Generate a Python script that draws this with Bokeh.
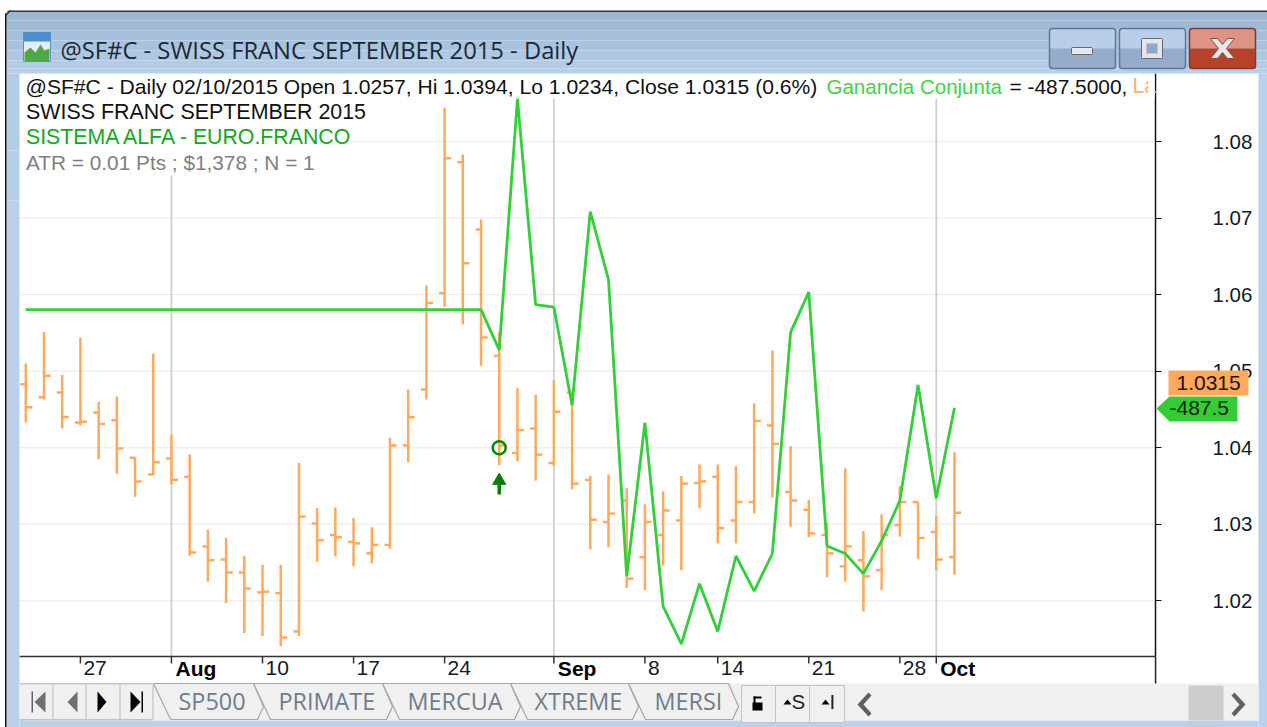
from bokeh.plotting import figure
from bokeh.embed import file_html
from bokeh.resources import INLINE
from bokeh.models import (BoxAnnotation, PolyAnnotation, Label, Range1d, LinearAxis,
                          FixedTicker, ColumnDataSource)

# ---------- data ----------
highs = [1.0510,1.0551,1.0495,1.0544,1.0460,1.0467,1.0388,1.0523,1.0417,1.0391,
         1.0293,1.0282,1.0259,1.0247,1.0247,1.0380,1.0321,1.0322,1.0308,1.0296,
         1.0413,1.0476,1.0612,1.0844,1.0783,1.0698,1.0551,1.0478,1.0469,1.0488,
         1.0471,1.0363,1.0365,1.0347,1.0326,1.0343,1.0363,1.0378,1.0378,1.0376,
         1.0458,1.0527,1.0402,1.0332,1.0302,1.0373,1.0291,1.0313,1.0350,1.0329,
         1.0311,1.0394]
lows = [1.0433,1.0463,1.0425,1.0429,1.0385,1.0366,1.0336,1.0364,1.0352,1.0259,
        1.0225,1.0197,1.0158,1.0154,1.0141,1.0154,1.0251,1.0258,1.0245,1.0249,
        1.0268,1.0381,1.0463,1.0584,1.0561,1.0507,1.0377,1.0382,1.0357,1.0376,
        1.0346,1.0267,1.0270,1.0217,1.0214,1.0246,1.0240,1.0321,1.0275,1.0275,
        1.0314,1.0335,1.0297,1.0283,1.0231,1.0225,1.0186,1.0214,1.0284,1.0255,
        1.0240,1.0234]
opens = [1.0483,1.0466,1.0472,1.0433,1.0446,1.0436,1.0387,1.0365,1.0386,1.0362,
         1.0271,1.0254,1.0237,1.0211,1.0210,1.0160,1.0301,1.0286,1.0277,1.0262,
         1.0273,1.0403,1.0476,1.0602,1.0773,1.0685,1.0520,1.0393,1.0425,1.0380,
         1.0472,1.0358,1.0303,1.0331,1.0257,1.0286,1.0305,1.0354,1.0362,1.0305,
         1.0329,1.0429,1.0342,1.0319,1.0286,1.0245,1.0253,1.0240,1.0299,1.0329,
         1.0290,1.0257]
closes = [1.0453,1.0494,1.0440,1.0434,1.0431,1.0399,1.0356,1.0381,1.0358,1.0263,
          1.0253,1.0237,1.0216,1.0212,1.0152,1.0310,1.0279,1.0283,1.0275,1.0273,
          1.0403,1.0440,1.0589,1.0778,1.0641,1.0544,1.0403,1.0423,1.0391,1.0447,
          1.0353,1.0306,1.0314,1.0229,1.0303,1.0318,1.0353,1.0356,1.0295,1.0329,
          1.0435,1.0405,1.0331,1.0288,1.0262,1.0271,1.0232,1.0286,1.0329,1.0282,
          1.0254,1.0315]
equity = [0.0]*26 + [-200,1050,25,12.5,-475,487.5,150,-1325,-562.5,-1475,-1662.5,-1362.5,
                     -1600,-1225,-1400,-1212.5,-112.5,87.5,-1175,-1212.5,-1312.5,-1150,
                     -950,-375,-937.5,-487.5]
bar_index = list(range(len(highs)))

tick_index = [3, 8, 13, 18, 23, 29, 34, 38, 43, 48, 50]
tick_labels = ["27", "Aug", "10", "17", "24", "Sep", "8", "14", "21", "28", "Oct"]
month_labels = ["Aug", "Sep", "Oct"]
price_ticks = [1.02, 1.03, 1.04, 1.05, 1.06, 1.07, 1.08]

signal_index = [26]
signal_price = [1.0400]
arrow_tip = [1.0357]
arrow_tail = [1.0339]

tab_names = ["SP500", "PRIMATE", "MERCUA", "XTREME", "MERSI"]

# ---------- styles ----------
FONT = "Liberation Sans"
UI = "Open Sans"
ORANGE = "#ffa95c"
GREEN = "#33cf38"
BLUE = "#b9d1ea"

W, H = 1267, 727
# chart plate limits, in data terms
X_MIN, X_MAX = -0.346, 62.04
Y_MIN, Y_MAX = 1.012724, 1.08888
TICK_LOW = 1.01181  # foot of the 7px date ticks

p = figure(width=W, height=H, output_backend="svg", toolbar_location=None,
           x_range=Range1d(-1.389, 68.19), y_range=Range1d(1.003449, 1.09842),
           x_axis_location=None, y_axis_location=None,
           min_border=0, min_border_left=0, min_border_right=0, min_border_top=0, min_border_bottom=0,
           border_fill_color="white", background_fill_color="white", outline_line_color=None)
p.xgrid.visible = False
p.ygrid.visible = False
p.extra_y_ranges = {"equity": Range1d(-2077.9, 1537.6)}

xa = LinearAxis(fixed_location=Y_MIN, bounds=(X_MIN, X_MAX), ticker=FixedTicker(ticks=[]))
xa.minor_tick_line_color = None
xa.major_tick_line_color = None
xa.axis_line_color = "#333333"
xa.axis_line_width = 1.5
p.add_layout(xa, "below")

ya = LinearAxis(fixed_location=X_MAX, bounds=(Y_MIN, Y_MAX), ticker=FixedTicker(ticks=price_ticks))
ya.minor_tick_line_color = None
ya.major_tick_in = 0
ya.major_tick_out = 6
ya.axis_line_color = "#111111"
ya.axis_line_width = 1.5
ya.major_tick_line_color = "#111111"
ya.major_label_standoff = 51
ya.major_label_text_font = FONT
ya.major_label_text_font_size = "20.5px"
ya.major_label_text_color = "#111a26"
p.add_layout(ya, "right")

# horizontal grid and month separators, kept inside the plate
month_ticks = [t for t, s in zip(tick_index, tick_labels) if s in month_labels]
p.segment([X_MIN]*len(price_ticks), price_ticks, [X_MAX]*len(price_ticks), price_ticks,
          line_color="#f0f0f0", line_width=1.5, level="underlay")
p.segment(month_ticks, [Y_MIN]*len(month_ticks), month_ticks, [Y_MAX]*len(month_ticks),
          line_color="#cfcfcf", line_width=1.8, level="underlay")
# date ticks
p.segment(tick_index, [Y_MIN]*len(tick_index), tick_index, [TICK_LOW]*len(tick_index),
          line_color="#333333", line_width=1.5)

# bars
src = ColumnDataSource(dict(x=bar_index, hi=highs, lo=lows, o=opens, c=closes,
                            xl=[i - 0.30 for i in bar_index], xr=[i + 0.36 for i in bar_index]))
p.segment("x", "lo", "x", "hi", source=src, line_color=ORANGE, line_width=2.5)
p.segment("xl", "o", "x", "o", source=src, line_color=ORANGE, line_width=2.5)
p.segment("x", "c", "xr", "c", source=src, line_color=ORANGE, line_width=2.5)

# equity
p.line(bar_index, equity, y_range_name="equity", line_color=GREEN, line_width=2.8)

# signal
p.scatter(signal_index, signal_price, marker="circle", size=13, fill_color=None,
          line_color="#008a00", line_width=2.5)
p.segment(signal_index, arrow_tail, signal_index, arrow_tip, line_color="#008000", line_width=3.5)
p.scatter(signal_index, arrow_tip, marker="triangle", size=13, fill_color="#008000", line_color="#008000")


# ---------- helpers: window furniture in canvas pixels ----------
def box(l, t, r, b, fill, line=None, lw=1, radius=0):
    p.add_layout(BoxAnnotation(left=l, right=r, top=t, bottom=b,
                               left_units="canvas", right_units="canvas",
                               top_units="canvas", bottom_units="canvas",
                               fill_color=fill, fill_alpha=1 if fill else 0, line_color=line, line_width=lw,
                               line_alpha=1, border_radius=radius, level="overlay"))


def poly(xs, ys, fill, line=None, lw=1):
    p.add_layout(PolyAnnotation(xs=xs, ys=ys, xs_units="canvas", ys_units="canvas",
                                fill_color=fill, fill_alpha=1 if fill else 0, line_color=line,
                                line_width=lw, line_alpha=1, level="overlay"))


def text(x, y, s, color="black", size=21.3, font=FONT, style="normal", align="left"):
    p.add_layout(Label(x=x, y=y, x_units="canvas", y_units="canvas", text=s, text_color=color,
                       text_font=font, text_font_size=f"{size}px", text_font_style=style,
                       text_align=align, text_baseline="middle", level="overlay"))


# legend backgrounds (hide separators behind the text)
box(19, 73, 1148, 98, "white")
box(19, 98, 366, 124, "white")
box(19, 124, 352, 150, "white")
box(19, 150, 315, 175, "white")

# info rows
text(25, 85.5, "@SF#C - Daily 02/10/2015 Open 1.0257, Hi 1.0394, Lo 1.0234, Close 1.0315 (0.6%)", "#111111", 21.1)
text(826, 85.5, "Ganancia Conjunta", "#44d04a", 20.5)
text(1009, 85.5, "= -487.5000,", "#111111", 20.9)
text(1132, 85.5, "La", "#ffb070")
box(1148, 73, 1154, 98, "white")
text(25.5, 111, "SWISS FRANC SEPTEMBER 2015", "#111111", 21.4)
text(25.5, 136.5, "SISTEMA ALFA - EURO.FRANCO", "#12a81e")
text(25.5, 162, "ATR = 0.01 Pts ; $1,378 ; N = 1", "#808080", 20.8)

# date labels, set just right of their ticks
for t, lab in zip(tick_index, tick_labels):
    month = lab in month_labels
    p.add_layout(Label(x=t, y=667.5, x_units="data", y_units="canvas", x_offset=4 if month else 3,
                       text=lab, text_font=FONT, text_font_size="21px",
                       text_font_style="bold" if month else "normal",
                       text_color="black" if month else "#111a26",
                       text_baseline="middle", text_align="left", level="overlay"))

# axis extension
box(1154.3, 656, 1155.8, 684, "#222222")

# price tags
box(1168, 370, 1248, 395, ORANGE)
text(1176, 382, "1.0315", "#1a1206", 21)
poly([1156, 1169, 1237, 1237, 1169], [408, 396, 396, 421, 421], "#33cc33")
text(1169, 407.5, "-487.5", "#0d240d", 21)

# window frame
steps = [("#9db7d3", 11), ("#a0bad6", 20), ("#a5bfda", 30), ("#a9c3de", 40), ("#aec8e2", 50), ("#b3cce6", 60), ("#b7cfe9", 68)]
for i, (c, y) in enumerate(steps):
    y2 = steps[i + 1][1] if i + 1 < len(steps) else 73
    box(6, y, 1267, y2, c)
box(6, 73, 19, 150, "#b3cce6")
box(6, 150, 19, 200, "#b6cfe8")
box(6, 200, 19, 727, BLUE)
box(1258, 73, 1267, 727, BLUE)
box(19, 720, 1258, 727, BLUE)
box(5, 10, 1267, 11.5, "#333333")
box(4.5, 11, 6, 727, "#111111")
# rounded top-left corner
poly([3, 10, 3], [8, 8, 15], "white")
poly([5, 10], [15, 10], None, "#333333", 1.5)

# title bar icon
box(23, 32, 50, 61, "#e6eef5", "#5b93cf", 1)
box(23, 32, 50, 41, "#4f8ccc")
poly([24, 24, 30, 35, 40, 44, 49, 49], [61, 52, 47, 52, 44, 50, 48, 61], "#4fa844")
text(60, 49.5, "@SF#C - SWISS FRANC SEPTEMBER 2015 - Daily", "#1c2836", 23.75, UI)

# window buttons
for l, top, bot, edge in [(1049, "#b9cfe8", "#95adc9", "#5f7896"), (1119, "#b9cfe8", "#95adc9", "#5f7896"),
                          (1189, "#df9385", "#b8412a", "#7d3b34")]:
    box(l, 28, l + 66, 48, top)
    box(l, 48, l + 66, 68, bot)
    box(l, 28, l + 66, 68, None, edge, 1.5, 3)
box(1071, 47, 1092, 54, "#e8e8ea", "#5a6a80", 1, 1)
box(1141, 38, 1162, 58, "#e4e6ea", "#5a6a80", 1, 1)
box(1146, 43, 1157, 53, "#8ea8c6")
poly([1210, 1217, 1222, 1227, 1234, 1226, 1234, 1227, 1222, 1217, 1210, 1218],
     [38, 38, 44, 38, 38, 48, 58, 58, 52, 58, 58, 48], "#e8e8e8", "#8a4a44", 1)

# tab strip
box(19, 683, 1258, 720, "#f0f0f0")
box(19, 682.5, 152, 684, "#c8c8c8")
for l in (52, 85, 119, 152):
    box(l, 684, l + 1, 719, "#b8b8b8")
box(19, 718.5, 152, 720, "#c0c0c0")
# navigation glyphs
box(31, 691, 32.5, 712, "#606060")
poly([34, 45, 45], [701.5, 691, 712], "#707070")
poly([67, 77, 77], [701.5, 691, 712], "#707070")
poly([97, 106, 97], [691, 701.5, 712], "#000000")
poly([130, 140, 130], [691, 701.5, 712], "#000000")
box(141, 691, 142.5, 712, "#000000")

tab_edges = [153, 253, 382, 510, 628, 728]
tab_text_x = [178, 278, 407, 534, 654]
for i, name in enumerate(tab_names):
    l, r = tab_edges[i], tab_edges[i + 1]
    poly([l, r, r + 10, r + 4, l + 17], [683, 683, 706, 719, 719], "#f0f0f0", "#a6a6a6", 1.2)
    text(tab_text_x[i], 700, name, "#6f7c8c", 23.4, UI)

# lock / S / I buttons
for l in (741, 775, 809):
    box(l, 685, l + 35, 722, "#f0f0f0", "#c4c4c4", 1)
box(752, 702, 762, 710, "#000000")
box(753, 696, 755, 703, "#000000")
box(753, 696, 761, 698, "#000000")
poly([783, 787, 791], [704, 699, 704], "#000000")
text(791, 701, "S", "#222222", 20.5)
poly([821, 825, 829], [704, 699, 704], "#000000")
text(829, 701, "I", "#222222", 20.5)
poly([868, 857, 868, 871, 863, 871], [692, 704, 716, 713, 704, 695], "#606060")
box(1188, 685, 1223, 720, "#cdcdcd")
poly([1234, 1245, 1234, 1231, 1239, 1231], [692, 704, 716, 713, 704, 695], "#606060")

open("out.html", "w").write(file_html(p, INLINE))
